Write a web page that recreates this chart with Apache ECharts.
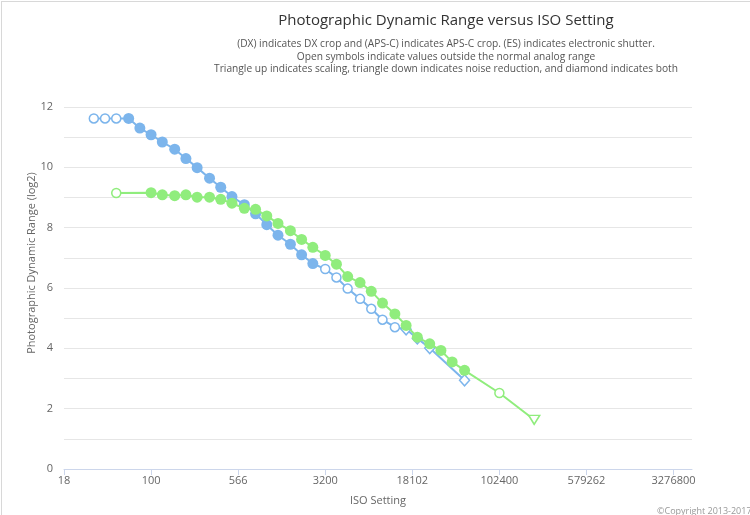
<!DOCTYPE html>
<html>
<head>
<meta charset="utf-8">
<script src="https://cdn.jsdelivr.net/npm/echarts@6/dist/echarts.min.js"></script>
<style>
html,body{margin:0;padding:0;background:#fff;}
#frame{position:absolute;left:1px;top:1px;width:800px;height:600px;border-left:1px solid #d8d8d8;border-top:1px solid #d8d8d8;}
#chart{position:absolute;left:0;top:0;width:750px;height:515px;}
</style>
</head>
<body>
<div id="frame"></div>
<div id="chart"></div>
<script>
// ---- data ----
const xTickISO = [17.68, 100, 565.7, 3200, 18102, 102400, 579262, 3276800];
const xTickLabels = ['18', '100', '566', '3200', '18102', '102400', '579262', '3276800'];

const isoBlue = [32, 40, 50, 64, 80, 100, 125, 160, 200, 250, 320, 400, 500, 640, 800, 1000, 1250, 1600, 2000, 2500, 3200, 4000, 5000, 6400, 8000, 10000, 12800, 16000, 20000, 25600, 51200];
const drBlue = [11.62, 11.62, 11.62, 11.62, 11.30, 11.08, 10.84, 10.60, 10.29, 9.99, 9.64, 9.34, 9.03, 8.76, 8.46, 8.10, 7.75, 7.45, 7.10, 6.81, 6.63, 6.35, 5.98, 5.64, 5.31, 4.95, 4.70, 4.63, 4.33, 4.01, 2.94];
const markBlue = ['o', 'o', 'o', 'f', 'f', 'f', 'f', 'f', 'f', 'f', 'f', 'f', 'f', 'f', 'f', 'f', 'f', 'f', 'f', 'f', 'o', 'o', 'o', 'o', 'o', 'o', 'o', 'd', 'd', 'd', 'd'];

const isoGreen = [50, 100, 125, 160, 200, 250, 320, 400, 500, 640, 800, 1000, 1250, 1600, 2000, 2500, 3200, 4000, 5000, 6400, 8000, 10000, 12800, 16000, 20000, 25600, 32000, 40000, 51200, 102400, 204800];
const drGreen = [9.15, 9.16, 9.09, 9.06, 9.09, 9.01, 9.01, 8.94, 8.81, 8.64, 8.61, 8.39, 8.14, 7.90, 7.61, 7.35, 7.08, 6.79, 6.38, 6.18, 5.89, 5.50, 5.14, 4.76, 4.37, 4.15, 3.93, 3.55, 3.27, 2.52, 1.63];
const markGreen = ['o', 'f', 'f', 'f', 'f', 'f', 'f', 'f', 'f', 'f', 'f', 'f', 'f', 'f', 'f', 'f', 'f', 'f', 'f', 'f', 'f', 'f', 'f', 'f', 'f', 'f', 'f', 'f', 'f', 'o', 'v'];

const seriesNames = ['Camera 1', 'Camera 2'];
const colors = ['#7cb5ec', '#90ed7d'];

// ISO -> stops relative to ISO 100 (logarithmic axis in base-2 stops)
const toStops = iso => Math.log2(iso / 100);

function buildData(isos, drs, marks, color) {
  return isos.map((iso, i) => {
    const m = marks[i];
    const item = { value: [toStops(iso), drs[i]], iso: iso };
    if (m === 'f') {
      item.symbol = 'circle';
      item.symbolSize = 11;
      item.itemStyle = { color: color, borderWidth: 0 };
    } else if (m === 'o') {
      item.symbol = 'circle';
      item.symbolSize = 9;
      item.itemStyle = { color: '#fff', borderColor: color, borderWidth: 1.5 };
    } else if (m === 'd') {
      item.symbol = 'diamond';
      item.symbolSize = [10, 11];
      item.itemStyle = { color: '#fff', borderColor: color, borderWidth: 1.5 };
    } else if (m === 'v') {
      item.symbol = 'triangle';
      item.symbolRotate = 180;
      item.symbolSize = [11, 9];
      item.itemStyle = { color: '#fff', borderColor: color, borderWidth: 1.5 };
    }
    return item;
  });
}

const font = '"Open Sans", "DejaVu Sans", sans-serif';
const chart = echarts.init(document.getElementById('chart'), null, { renderer: 'canvas' });
const tickStops = xTickISO.map(toStops);

chart.setOption({
  animation: false,
  backgroundColor: 'transparent',
  title: {
    text: 'Photographic Dynamic Range versus ISO Setting',
    subtext: '(DX) indicates DX crop and (APS-C) indicates APS-C crop. (ES) indicates electronic shutter.\nOpen symbols indicate values outside the normal analog range\nTriangle up indicates scaling, triangle down indicates noise reduction, and diamond indicates both',
    left: 441,
    textAlign: 'center',
    top: 8,
    itemGap: 10,
    textStyle: { fontFamily: font, fontSize: 15, fontWeight: 'normal', color: '#333' },
    subtextStyle: { fontFamily: font, fontSize: 10.2, color: '#555', lineHeight: 12.6, align: 'center' }
  },
  grid: { left: 64, right: 58, top: 107, bottom: 46, containLabel: false },
  xAxis: {
    type: 'value',
    min: -2.5,
    max: 15.53,
    interval: 2.5,
    name: 'ISO Setting',
    nameLocation: 'middle',
    nameGap: 26,
    nameTextStyle: { fontFamily: font, fontSize: 11, color: '#666' },
    axisLine: { show: true, lineStyle: { color: '#ccd6eb', width: 1 } },
    axisTick: { show: true, length: 6, lineStyle: { color: '#ccd6eb' }, customValues: tickStops },
    axisLabel: {
      fontFamily: font, fontSize: 11, color: '#666', margin: 6,
      customValues: tickStops,
      formatter: v => {
        const idx = tickStops.findIndex(t => Math.abs(t - v) < 1e-6);
        return idx >= 0 ? xTickLabels[idx] : '';
      }
    },
    splitLine: { show: false }
  },
  yAxis: {
    type: 'value',
    min: 0,
    max: 12,
    interval: 1,
    axisLine: { show: false },
    axisTick: { show: false },
    axisLabel: {
      fontFamily: font, fontSize: 11, color: '#666', margin: 11,
      formatter: v => (v % 2 === 0 ? String(v) : '')
    },
    splitLine: { show: true, lineStyle: { color: '#e6e6e6', width: 1 } }
  },
  series: [
    {
      name: seriesNames[0],
      type: 'line',
      data: buildData(isoBlue, drBlue, markBlue, colors[0]),
      lineStyle: { color: colors[0], width: 2 },
      itemStyle: { color: colors[0] },
      showAllSymbol: true,
      z: 2
    },
    {
      name: seriesNames[1],
      type: 'line',
      data: buildData(isoGreen, drGreen, markGreen, colors[1]),
      lineStyle: { color: colors[1], width: 2 },
      itemStyle: { color: colors[1] },
      showAllSymbol: true,
      z: 3
    }
  ],
  graphic: [
    {
      type: 'text',
      x: 32,
      y: 263,
      rotation: Math.PI / 2,
      style: { text: 'Photographic Dynamic Range (log2)', fontFamily: font, fontSize: 11, fill: '#666', align: 'center', verticalAlign: 'middle' }
    },
    {
      type: 'text',
      left: 657,
      top: 507,
      style: { text: '©Copyright 2013-2017 William J. Claff', fontFamily: font, fontSize: 9, fill: '#999' }
    }
  ]
});
</script>
</body>
</html>
